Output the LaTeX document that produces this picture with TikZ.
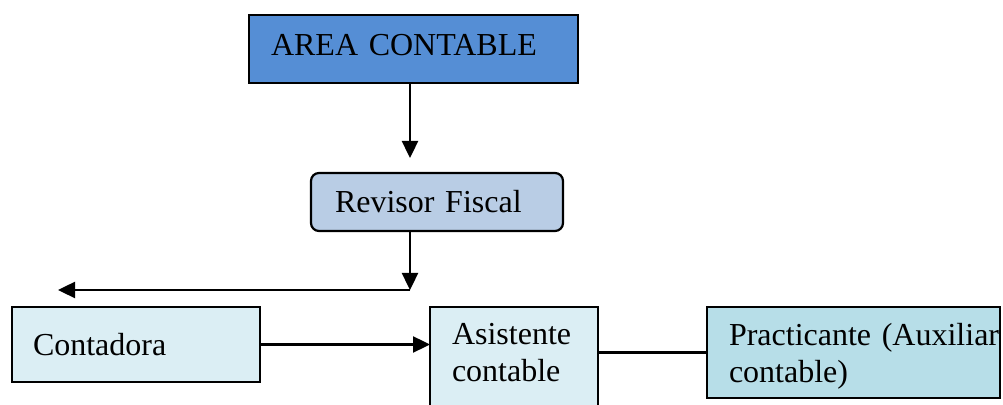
\documentclass[tikz,border=0pt]{standalone}
\usepackage{fontspec}
\setmainfont{Liberation Serif}
\usepackage{tikz}
\usetikzlibrary{arrows.meta}
\definecolor{areablue}{HTML}{558ED5}
\definecolor{revisorblue}{HTML}{B9CDE5}
\definecolor{paleblue}{HTML}{DBEEF4}
\definecolor{tealblue}{HTML}{B7DEE8}
\tikzstyle{box}=[draw, line width=1.1pt, inner ysep=0, outer sep=0, align=left,
                 font=\fontsize{16}{18.5}\selectfont]
\tikzstyle{twoline}=[box, text height=11pt]
\tikzstyle{arrow}=[line width=1.2pt, -{Triangle[length=8.5pt, width=8pt]}]
\tikzstyle{orgchart}=[x=0.5pt, y=-0.5pt,
                      % Fix the page to the size of the original.
                      execute at begin picture={\useasboundingbox (0, 0) rectangle (1003, 405);}]
\begin{document}
\begin{tikzpicture}[orgchart]
    \node[box, fill=areablue, inner xsep=11pt, text width=142.5pt, minimum height=34pt, text depth=4.5pt] (area) at (413.5, 49) {AREA CONTABLE};
    \node[box, fill=revisorblue, rounded corners=4pt, inner xsep=12pt, text width=102pt, minimum height=29pt] (revisor) at (437, 202) {Revisor Fiscal};
    \node[box, fill=paleblue, inner xsep=10.5pt, text width=103pt, minimum height=37.5pt] (contadora) at (136, 344.5) {Contadora};
    \node[twoline, fill=paleblue, inner xsep=11pt, text width=62pt, minimum height=55pt, text depth=28pt] (asistente) at (514, 362) {Asistente\\contable};
    \node[twoline, fill=tealblue, inner xsep=11pt, text width=124.5pt, minimum height=45.5pt, text depth=18pt] (practicante) at (853.5, 352.5) {\mbox{Practicante (Auxiliar}\\contable)};
    \coordinate (split) at (410, 290);
    \coordinate (leftend) at (58, 290);
    \draw[arrow, shorten >=7.5pt] (area.south -| split) -- (split |- revisor.north);
    \draw[arrow] (revisor.south -| split) -- (split);
    \draw[arrow] (split) -- (leftend);
    \draw[arrow] (contadora.east) -- (contadora.east -| asistente.west);
    \draw[line width=1.2pt] (asistente.east |- practicante.west) -- (practicante.west);
\end{tikzpicture}
\end{document}
